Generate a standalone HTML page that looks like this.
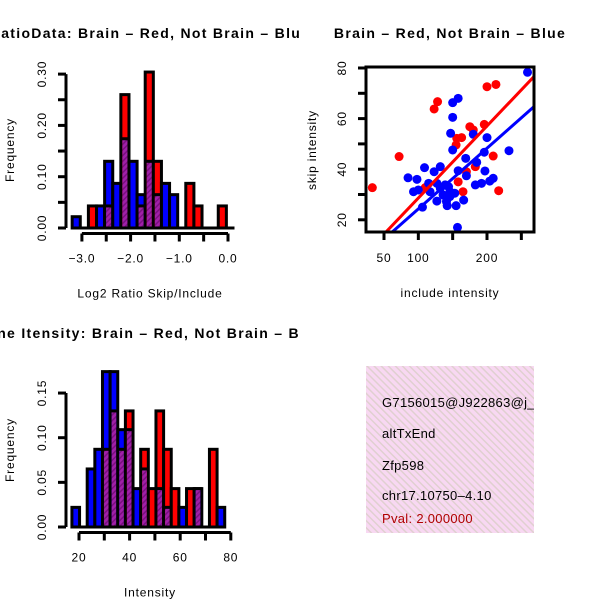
<!DOCTYPE html>
<html><head><meta charset="utf-8"><style>
body{margin:0;background:#fff}
svg{display:block;font-family:"Liberation Sans",Arial,sans-serif}
svg text{letter-spacing:0.8px}
svg text.ttl{letter-spacing:1.3px}
svg text.info{letter-spacing:0.3px}
</style></head><body>
<svg id="chart" width="600" height="600" viewBox="0 0 600 600">
<defs>
<pattern id="hatch" width="4" height="4" patternUnits="userSpaceOnUse" patternTransform="rotate(45)">
<rect width="4" height="4" fill="#a020a8"/><rect width="1.5" height="4" fill="#7a1080"/></pattern>
<pattern id="pinkhatch" width="5" height="5" patternUnits="userSpaceOnUse" patternTransform="rotate(-45)">
<rect width="5" height="5" fill="#f8d8f2"/><rect width="1.5" height="5" fill="#e0d0d0"/></pattern>
<clipPath id="clipL"><rect x="0" y="0" width="300" height="300"/></clipPath>
<clipPath id="clipBL"><rect x="0" y="300" width="300" height="300"/></clipPath>
<clipPath id="clipSc"><rect x="366" y="67" width="168" height="165"/></clipPath>
<clipPath id="clipBox"><rect x="366" y="366" width="168" height="167"/></clipPath>
</defs>
<g id="h1"></g>
<g id="sc"></g>
<g id="h2"></g>
<g clip-path="url(#clipBox)">
<rect x="366" y="366" width="168" height="167" fill="url(#pinkhatch)"/>
<text class="info" x="382" y="407" font-size="13">G7156015@J922863@j_</text>
<text class="info" x="382" y="438" font-size="13">altTxEnd</text>
<text class="info" x="382" y="470" font-size="13">Zfp598</text>
<text class="info" x="382" y="500" font-size="13">chr17.10750–4.10</text>
<text class="info" x="382" y="523" font-size="13" fill="#b00000">Pval: 2.000000</text>
</g>
</svg>
<script>
// ---- Histogram 1 data (log2 ratio) ----
const h1Start = -3.2;
const h1Width = 1/6;
const h1Blue = [0.022,0,0,0.043,0.13,0.087,0.174,0.13,0.065,0.13,0.065,0.087,0.065,0,0,0,0,0,0,0];
const h1Red  = [0,0,0.043,0,0.043,0,0.26,0,0.043,0.304,0.13,0,0,0,0.087,0.043,0,0,0.043,0];
const h1YTicks = [0,0.05,0.10,0.15,0.20,0.25,0.30];
const h1YLabels = ["0.00","0.10","0.20","0.30"];
const h1XTicks = [-3.0,-2.5,-2.0,-1.5,-1.0,-0.5,0.0];
const h1XLabels = ["-3.0","-2.0","-1.0","0.0"];
// ---- Histogram 2 data (intensity) ----
const h2Start = 17.2;
const h2Width = 3.02;
const h2Blue = [0.022,0,0.065,0.087,0.174,0.174,0.109,0.109,0.043,0.065,0,0.043,0.022,0,0.022,0,0.043,0,0,0.022];
const h2Red  = [0,0,0,0,0.087,0.13,0.087,0.13,0,0.087,0.043,0.13,0.087,0.043,0,0.043,0.043,0,0.087,0];
const h2YTicks = [0,0.05,0.10,0.15];
const h2YLabels = ["0.00","0.05","0.10","0.15"];
const h2XTicks = [20,30,40,50,60,70,80];
const h2XLabels = ["20","40","60","80"];
// ---- Scatter data ----
const redX = [33,72,123,128,200,213,196,175,180,156,163,155,209,183,170,158,165,217,110];
const redY = [32.7,45,63.8,66.7,72.6,73.5,57.7,56.8,55.5,52.2,52.5,49.6,45.2,41,39,35,31.1,31.5,32.7];
const blueX = [259,158,150,150,147,180,200,150,232,196,169,185,109,132,123,158,197,170,85,98,209,115,183,192,204,127,139,144,132,93,100,117,146,153,136,146,127,141,166,106,142,155,157];
const blueY = [78.3,68,66.3,60.5,54.2,53.8,52.5,47.6,47.3,46.7,44.3,42.7,40.6,41,39,39.4,39.3,37.4,36.6,36,36.4,34.4,33.8,34.4,35.3,34.4,33.8,33.1,32.4,31.1,31.8,31.1,31.1,30.5,29.8,29.2,27.4,27.2,27.8,25,25.6,25.6,17];
const redFit = [0.1, 0.285];   // intercept, slope
const blueFit = [0.3, 0.24];
const scXTicks = [50,100,150,200,250];
const scXLabels = ["50","100","200"];
const scYTicks = [20,30,40,50,60,70,80];
const scYLabels = ["20","40","60","80"];

const NS="http://www.w3.org/2000/svg";
function mk(parent,tag,attrs){const e=document.createElementNS(NS,tag);for(const k in attrs)e.setAttribute(k,attrs[k]);parent.appendChild(e);return e;}

function drawHist(g,o){
  const clip=mk(g,'g',{'clip-path':o.clip});
  const t=mk(clip,'text',{x:150,y:o.titleY,'font-size':14,'font-weight':'bold','text-anchor':'middle','class':'ttl'});
  t.textContent=o.title;
  
  
  const xs=v=>o.x0+(v-o.xv0)*o.xk, ys=v=>o.y0-v*o.yk;
  const n=o.blue.length;
  const bl=mk(g,'line',{x1:xs(o.start),x2:xs(o.start+n*o.w),y1:o.y0,y2:o.y0,stroke:'#000','stroke-width':3});
  
  
  for(let i=0;i<n;i++){
    const b=o.blue[i],r=o.red[i],a=xs(o.start+i*o.w),wd=o.w*o.xk;
    const top=Math.max(b,r),lo=Math.min(b,r);
    if(top<=0)continue;
    const bar=mk(g,'rect',{x:a,y:ys(top),width:wd,height:top*o.yk,fill:b>=r?'#0000ff':'#ff0000',stroke:'#000','stroke-width':3});
    
    
    if(lo>0){
      const p=mk(g,'rect',{x:a+1.5,y:ys(lo),width:wd-3,height:lo*o.yk-1.5,fill:'url(#hatch)'});
      
      
      mk(g,'line',{x1:a,x2:a+wd,y1:ys(lo),y2:ys(lo),stroke:'#000','stroke-width':3});
    }
  }
  const ya=mk(g,'g',{});
  
  
  mk(ya,'line',{x1:66,x2:66,y1:ys(o.yt[0]),y2:ys(o.yt[o.yt.length-1]),stroke:'#000','stroke-width':3});
  o.yt.forEach(v=>mk(ya,'line',{x1:58,x2:66,y1:ys(v),y2:ys(v),stroke:'#000','stroke-width':3}));
  o.yl.forEach(s=>{const v=parseFloat(s);const tx=mk(ya,'text',{x:46,y:ys(v),'font-size':12,'text-anchor':'middle',transform:`rotate(-90 46 ${ys(v)})`});tx.textContent=s;});
  const yt=mk(g,'text',{x:14,y:o.yMid,'font-size':12,'text-anchor':'middle',transform:`rotate(-90 14 ${o.yMid})`});
  yt.textContent='Frequency';
  
  
  const xa=mk(g,'g',{});
  
  
  const xy=o.y0+5.5;
  mk(xa,'line',{x1:xs(o.xt[0]),x2:xs(o.xt[o.xt.length-1]),y1:xy,y2:xy,stroke:'#000','stroke-width':3});
  o.xt.forEach(v=>mk(xa,'line',{x1:xs(v),x2:xs(v),y1:xy,y2:xy+8,stroke:'#000','stroke-width':3}));
  o.xl.forEach(s=>{const tx=mk(xa,'text',{x:xs(parseFloat(s)),y:xy+29,'font-size':12,'text-anchor':'middle'});tx.textContent=s.replace('-','−');});
  const xt=mk(g,'text',{x:150,y:xy+64,'font-size':12,'text-anchor':'middle'});
  xt.textContent=o.xlab;
  
  
}

drawHist(document.getElementById('h1'),{clip:'url(#clipL)',title:'RatioData: Brain – Red, Not Brain – Blue',titleY:38,
  start:h1Start,w:h1Width,blue:h1Blue,red:h1Red,x0:228,xv0:0,xk:48.7,y0:228,yk:513,
  yt:h1YTicks,yl:h1YLabels,xt:h1XTicks,xl:h1XLabels,yMid:150,xlab:'Log2 Ratio Skip/Include'});
drawHist(document.getElementById('h2'),{clip:'url(#clipBL)',title:'Gene Itensity: Brain – Red, Not Brain – Blue',titleY:338,
  start:h2Start,w:h2Width,blue:h2Blue,red:h2Red,x0:79,xv0:20,xk:2.53,y0:527,yk:893,
  yt:h2YTicks,yl:h2YLabels,xt:h2XTicks,xl:h2XLabels,yMid:450,xlab:'Intensity'});

(function(){
  const g=document.getElementById('sc');
  const xs=v=>384+(v-50)*0.6867, ys=v=>68+(80-v)*2.53;
  const t=mk(g,'text',{x:450,y:38,'font-size':14,'font-weight':'bold','text-anchor':'middle','class':'ttl'});
  t.textContent='Brain – Red, Not Brain – Blue';
  
  
  const pts=mk(g,'g',{'clip-path':'url(#clipSc)'});
  redX.forEach((x,i)=>{const c=mk(pts,'circle',{cx:xs(x),cy:ys(redY[i]),r:4.5,fill:'#ff0000'});
    
    });
  blueX.forEach((x,i)=>{const c=mk(pts,'circle',{cx:xs(x),cy:ys(blueY[i]),r:4.5,fill:'#0000ff'});
    
    });
  [[redFit,'#ff0000','fit-line-red'],[blueFit,'#0000ff','fit-line-blue']].forEach(([f,c,n])=>{
    const l=mk(pts,'line',{x1:xs(0),y1:ys(f[0]),x2:xs(300),y2:ys(f[0]+f[1]*300),stroke:c,'stroke-width':3});
    
    });
  const box=mk(g,'rect',{x:366,y:67,width:168,height:165,fill:'none',stroke:'#000','stroke-width':3});
  
  
  const ya=mk(g,'g',{});
  
  
  scYTicks.forEach(v=>mk(ya,'line',{x1:358,x2:366,y1:ys(v),y2:ys(v),stroke:'#000','stroke-width':3}));
  scYLabels.forEach(s=>{const y=ys(+s);const tx=mk(ya,'text',{x:346,y:y,'font-size':12,'text-anchor':'middle',transform:`rotate(-90 346 ${y})`});tx.textContent=s;});
  const xa=mk(g,'g',{});
  
  
  scXTicks.forEach(v=>mk(xa,'line',{x1:xs(v),x2:xs(v),y1:232,y2:240,stroke:'#000','stroke-width':3}));
  scXLabels.forEach(s=>{const tx=mk(xa,'text',{x:xs(+s),y:262,'font-size':12,'text-anchor':'middle'});tx.textContent=s;});
  const xt=mk(g,'text',{x:450,y:297,'font-size':12,'text-anchor':'middle'});
  xt.textContent='include intensity';
  
  
  const yt=mk(g,'text',{x:316,y:150,'font-size':12,'text-anchor':'middle',transform:'rotate(-90 316 150)'});
  yt.textContent='skip intensity';
  
  
})();
</script>
</body></html>
